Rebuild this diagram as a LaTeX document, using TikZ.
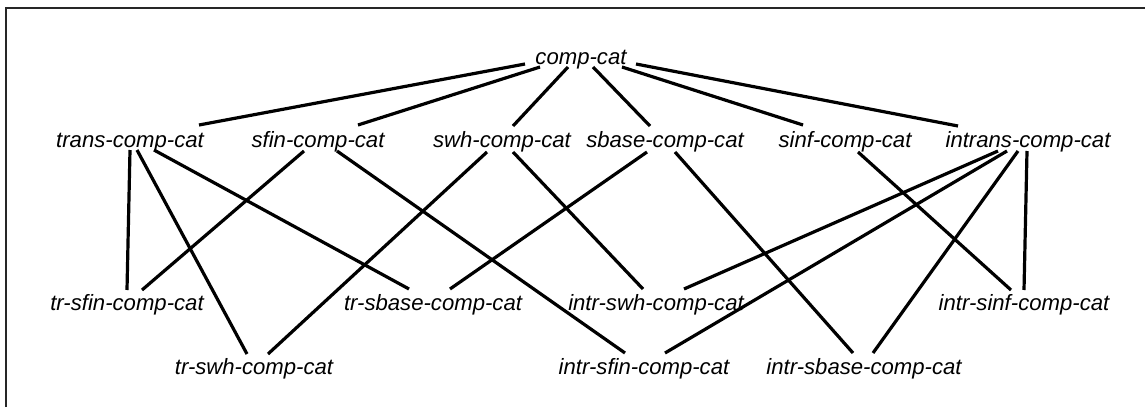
\documentclass[tikz,border=0pt]{standalone}
\usepackage{fontspec}
\setmainfont{Liberation Sans}
\newcommand{\edgeline}[6]{\draw[conn] ([shift={(#2)}]#1.base) -- ([shift={(#5)}]#4.base);}
\begin{document}
\begin{tikzpicture}[x=0.75pt,y=-0.75pt,
  lbl/.style={anchor=base,inner sep=0pt,font=\fontsize{16.6}{20}\selectfont\itshape},
  conn/.style={line width=2.4pt,line cap=butt},
  frame/.style={line width=1.1pt,draw=black!85}]
\useasboundingbox (0,0) rectangle (1145,407);
\draw[frame] (6,407) -- (6,8) -- (1145,8);
% row 0
\node[lbl] (comp) at (581,64) {comp-cat};
% row 1
\node[lbl] (trans) at (130,147) {trans-comp-cat};
\node[lbl] (sfin) at (318,147) {sfin-comp-cat};
\node[lbl] (swh) at (502,147) {swh-comp-cat};
\node[lbl] (sbase) at (665,147) {sbase-comp-cat};
\node[lbl] (sinf) at (845,147) {sinf-comp-cat};
\node[lbl] (intrans) at (1028,147) {intrans-comp-cat};
% row 2
\node[lbl] (trsfin) at (127,310) {tr-sfin-comp-cat};
\node[lbl] (trsbase) at (433,310) {tr-sbase-comp-cat};
\node[lbl] (intrswh) at (656,310) {intr-swh-comp-cat};
\node[lbl] (intrsinf) at (1024,310) {intr-sinf-comp-cat};
% row 3
\node[lbl] (trswh) at (254,374) {tr-swh-comp-cat};
\node[lbl] (intrsfin) at (644,374) {intr-sfin-comp-cat};
\node[lbl] (intrsbase) at (864,374) {intr-sbase-comp-cat};
% edges
\edgeline{comp}{-56,0}{}{trans}{69,-22}{}
\edgeline{comp}{-41,3}{}{sfin}{40,-22}{}
\edgeline{comp}{-13,3}{}{swh}{11,-21}{}
\edgeline{comp}{12,3}{}{sbase}{-15,-21}{}
\edgeline{comp}{41,3}{}{sinf}{-42,-22}{}
\edgeline{comp}{55,0}{}{intrans}{-70,-21}{}
\edgeline{trans}{0,3}{}{trsfin}{0,-20}{}
\edgeline{trans}{7,3}{}{trswh}{-7,-20}{}
\edgeline{trans}{24,3}{}{trsbase}{-24,-21}{}
\edgeline{sfin}{-14,4}{}{trsfin}{15,-20}{}
\edgeline{sfin}{19,4}{}{intrsfin}{-19,-21}{}
\edgeline{swh}{-15,5}{}{trswh}{14,-20}{}
\edgeline{swh}{11,5}{}{intrswh}{-13,-21}{}
\edgeline{sbase}{-18,5}{}{trsbase}{17,-21}{}
\edgeline{sbase}{10,5}{}{intrsbase}{-11,-21}{}
\edgeline{sinf}{13,5}{}{intrsinf}{-13,-20}{}
\edgeline{intrans}{-30,4}{}{intrswh}{28,-21}{}
\edgeline{intrans}{-21,4}{}{intrsfin}{21,-21}{}
\edgeline{intrans}{-10,4}{}{intrsbase}{9,-21}{}
\edgeline{intrans}{-1,4}{}{intrsinf}{0,-20}{}
\end{tikzpicture}
\end{document}
